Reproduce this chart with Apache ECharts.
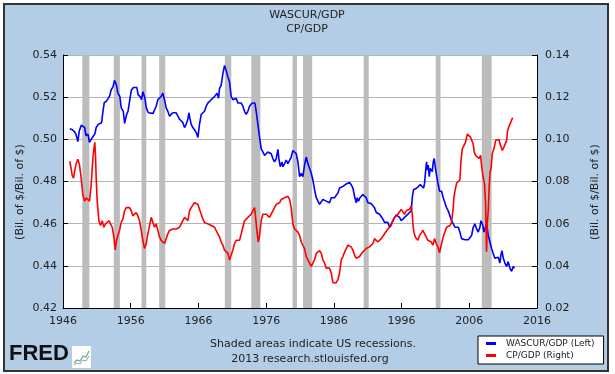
<!DOCTYPE html>
<html><head><meta charset="utf-8">
<script src="https://cdn.jsdelivr.net/npm/echarts@6.0.0/dist/echarts.min.js"></script>
<style>html,body{margin:0;padding:0;background:#fff}#c{width:615px;height:374px}</style>
</head><body><div id="c"></div><script>
// ---- data ----
const titleLines = ['WASCUR/GDP', 'CP/GDP'];
const seriesNames = ['WASCUR/GDP (Left)', 'CP/GDP (Right)'];
const xTicks = [1946, 1956, 1966, 1976, 1986, 1996, 2006, 2016];
const leftTicks = [0.42, 0.44, 0.46, 0.48, 0.50, 0.52, 0.54];
const rightTicks = [0.02, 0.04, 0.06, 0.08, 0.10, 0.12, 0.14];
const recessions = [[1948.85,1949.9],[1953.5,1954.4],[1957.6,1958.3],[1960.2,1961.1],[1969.9,1970.85],[1973.8,1975.15],[1979.9,1980.55],[1981.45,1982.8],[1990.4,1991.15],[2001.05,2001.75],[2007.85,2009.3]];

const wascurGDP = [
[1947.0,0.505],[1947.4,0.5045],[1947.7,0.5036],[1947.9,0.5025],[1948.2,0.4989],[1948.4,0.504],[1948.7,0.5067],[1948.9,0.5076],[1949.2,0.5056],[1949.4,0.5017],[1949.7,0.5025],[1949.9,0.4986],[1950.2,0.5002],[1950.4,0.4994],[1950.7,0.5025],[1950.9,0.5056],[1951.2,0.5071],[1951.4,0.5067],[1951.7,0.5079],[1951.9,0.5133],[1952.1,0.5175],[1952.4,0.518],[1952.6,0.5188],[1952.9,0.5206],[1953.1,0.5234],[1953.4,0.525],[1953.6,0.528],[1953.9,0.5257],[1954.1,0.5219],[1954.4,0.5203],[1954.6,0.5149],[1954.9,0.5133],[1955.1,0.5076],[1955.4,0.5118],[1955.6,0.5133],[1955.9,0.5195],[1956.1,0.5234],[1956.4,0.5246],[1956.6,0.525],[1956.9,0.5246],[1957.1,0.5211],[1957.4,0.5203],[1957.6,0.5188],[1957.8,0.5226],[1958.1,0.5195],[1958.3,0.5149],[1958.6,0.5126],[1958.8,0.5121],[1959.3,0.5123],
[1959.76,0.5157],[1960.01,0.5188],[1960.25,0.5195],[1960.5,0.5203],[1960.75,0.5219],[1960.99,0.5188],[1961.24,0.5149],[1961.48,0.5133],[1961.73,0.511],[1961.98,0.5118],[1962.22,0.5126],[1962.47,0.5118],[1962.72,0.5126],[1962.96,0.5118],[1963.21,0.5095],[1963.45,0.5102],[1963.7,0.5079],[1963.95,0.5056],[1964.19,0.5071],[1964.44,0.5095],[1964.59,0.5126],[1964.73,0.5102],[1964.93,0.5071],[1965.18,0.5056],[1965.42,0.5048],[1965.67,0.5033],[1965.92,0.5009],[1966.16,0.5071],[1966.41,0.5118],[1966.65,0.5126],[1966.9,0.5133],[1967.15,0.5157],[1967.39,0.5172],[1967.64,0.5164],[1967.89,0.5188],[1968.13,0.518],[1968.38,0.5203],[1968.62,0.5211],[1968.77,0.5219],[1968.97,0.5195],[1969.12,0.5242],[1969.36,0.5257],[1969.61,0.5312],[1969.85,0.535],[1970.1,0.5327],[1970.35,0.5296],[1970.59,0.5273],[1970.84,0.5203],[1971.09,0.5188],[1971.33,0.518],[1971.58,0.5195],[1971.82,0.5172],[1972.07,0.5164],[1972.32,0.5172],[1972.56,0.5157],[1972.81,0.5133],[1973.05,0.5118],[1973.3,0.5133],
[1973.55,0.5157],[1973.8,0.5164],[1973.94,0.5172],[1974.14,0.5164],[1974.34,0.5172],[1974.53,0.5133],[1974.78,0.5071],[1975.03,0.5009],[1975.27,0.4955],[1975.52,0.494],[1975.77,0.4924],[1976.01,0.4932],[1976.26,0.494],[1976.5,0.4947],[1976.75,0.4932],[1976.99,0.4909],[1977.24,0.4893],[1977.49,0.4909],[1977.74,0.4952],[1977.88,0.4909],[1978.08,0.487],[1978.33,0.4893],[1978.47,0.487],[1978.72,0.4885],[1978.97,0.4901],[1979.21,0.4885],[1979.46,0.4893],[1979.7,0.4916],[1979.95,0.4947],[1980.2,0.4955],[1980.44,0.4932],[1980.69,0.4893],[1980.94,0.4823],[1981.18,0.4839],[1981.43,0.4823],[1981.67,0.4878],[1981.92,0.4916],[1982.17,0.4885],[1982.41,0.4878],[1982.66,0.4839],[1982.9,0.4808],[1983.15,0.4761],[1983.4,0.4723],[1983.64,0.4715],[1983.89,0.4692],[1984.14,0.4699],[1984.38,0.4715],[1984.63,0.4707],[1984.87,0.4707],[1985.12,0.4715],[1985.37,0.4699],[1985.61,0.4723],[1985.86,0.473],[1986.11,0.4723],[1986.35,0.4715],[1986.6,0.4746],[1986.84,0.4769],[1987.09,0.4772],[1987.34,0.4777],
[1987.58,0.4785],[1987.83,0.4788],[1988.07,0.4792],[1988.32,0.4795],[1988.56,0.4785],[1988.81,0.4769],[1989.06,0.473],[1989.3,0.4699],[1989.45,0.4723],[1989.65,0.4707],[1989.85,0.4723],[1990.04,0.473],[1990.29,0.4738],[1990.53,0.4746],[1990.78,0.4723],[1991.03,0.4699],[1991.27,0.4692],[1991.52,0.4695],[1991.77,0.4699],[1992.01,0.4676],[1992.26,0.4653],[1992.5,0.4645],[1992.75,0.4645],[1993.0,0.4637],[1993.24,0.4622],[1993.49,0.4606],[1993.73,0.4599],[1993.98,0.4606],[1994.23,0.4583],[1994.47,0.4591],[1994.72,0.4614],[1994.97,0.463],[1995.21,0.4642],[1995.46,0.4645],[1995.7,0.463],[1995.95,0.4614],[1996.2,0.4622],[1996.44,0.463],[1996.69,0.4637],[1996.94,0.4645],[1997.18,0.4637],[1997.43,0.4661],[1997.58,0.4723],[1997.77,0.4761],[1998.02,0.4769],[1998.26,0.4769],[1998.51,0.4777],[1998.76,0.4785],[1999.0,0.4777],[1999.25,0.4769],[1999.4,0.4792],[1999.54,0.4847],[1999.69,0.4893],[1999.79,0.4854],[1999.94,0.4878],[2000.09,0.4823],[2000.23,0.4862],[2000.38,0.487],[2000.53,0.4847],[2000.68,0.4893],[2000.82,0.4909],[2000.97,0.487],[2001.12,0.4839],[2001.37,0.4792],[2001.61,0.4754],
[2001.91,0.4754],[2002.15,0.4723],[2002.4,0.4699],[2002.64,0.4676],[2002.89,0.4661],[2003.14,0.4653],[2003.38,0.4614],[2003.63,0.4599],[2003.88,0.4583],[2004.12,0.4586],[2004.37,0.4583],[2004.61,0.456],[2004.86,0.4529],[2005.11,0.4529],[2005.35,0.4524],[2005.6,0.4529],[2005.85,0.4524],[2006.09,0.4529],[2006.34,0.4544],[2006.58,0.4583],[2006.83,0.4599],[2007.08,0.4575],[2007.32,0.456],[2007.57,0.4583],[2007.72,0.4614],[2007.86,0.4622],[2008.01,0.4591],[2008.16,0.456],[2008.31,0.4575],[2008.55,0.4599],[2008.8,0.4544],[2009.05,0.4513],[2009.29,0.4482],[2009.54,0.4459],[2009.78,0.4436],[2010.03,0.4428],[2010.28,0.4441],[2010.52,0.4413],[2010.67,0.4451],[2010.82,0.4472],[2011.02,0.4436],[2011.26,0.4413],[2011.51,0.4397],[2011.75,0.442],[2012.0,0.4389],[2012.25,0.4374],[2012.49,0.4397],[2012.69,0.4389]
];

const cpGDP = [
[1947.0,0.0896],[1947.15,0.087],[1947.35,0.0831],[1947.55,0.0816],[1947.75,0.0854],[1947.95,0.0885],[1948.19,0.0906],[1948.44,0.0878],[1948.68,0.0816],[1948.93,0.0738],[1949.18,0.0707],[1949.42,0.0723],[1949.67,0.073],[1949.92,0.0707],[1950.16,0.0785],[1950.41,0.0909],[1950.56,0.0955],[1950.7,0.0986],[1950.8,0.0924],[1950.9,0.0816],[1951.05,0.0707],[1951.3,0.0614],[1951.54,0.0591],[1951.79,0.0614],[1952.03,0.0583],[1952.28,0.0599],[1952.53,0.0591],[1952.77,0.0614],[1953.02,0.0606],[1953.27,0.0583],[1953.51,0.0537],[1953.71,0.0475],[1953.86,0.0513],[1954.1,0.0544],[1954.35,0.0568],[1954.6,0.0606],[1954.84,0.0622],[1955.09,0.0661],[1955.33,0.0676],[1955.58,0.0684],[1955.83,0.0676],[1956.07,0.0661],[1956.32,0.0637],[1956.56,0.0645],[1956.81,0.0653],[1957.05,0.0637],[1957.3,0.0614],[1957.55,0.0568],[1957.8,0.0521],[1958.04,0.0482],[1958.29,0.0505],[1958.53,0.0552],[1958.78,0.0591],[1959.03,0.063],[1959.28,0.0606],[1959.52,0.0583],
[1959.76,0.0599],[1960.01,0.0568],[1960.25,0.0537],[1960.5,0.0521],[1960.75,0.0513],[1960.99,0.0506],[1961.24,0.0529],[1961.48,0.0552],[1961.73,0.0568],[1961.98,0.056],[1962.22,0.0575],[1962.47,0.0568],[1962.72,0.0575],[1962.96,0.0568],[1963.21,0.0583],[1963.45,0.0599],[1963.7,0.0614],[1963.95,0.063],[1964.19,0.0622],[1964.44,0.0614],[1964.69,0.0661],[1964.93,0.0676],[1965.18,0.0684],[1965.42,0.0699],[1965.67,0.0704],[1965.92,0.0692],[1966.16,0.0668],[1966.41,0.0645],[1966.65,0.0622],[1966.9,0.0606],[1967.15,0.0614],[1967.39,0.0599],[1967.64,0.0599],[1967.89,0.0591],[1968.13,0.0591],[1968.38,0.0583],[1968.62,0.0575],[1968.87,0.0552],[1969.12,0.0537],[1969.36,0.0513],[1969.61,0.0498],[1969.85,0.0475],[1970.1,0.0467],[1970.35,0.0459],[1970.59,0.0428],[1970.84,0.0451],[1971.09,0.0475],[1971.33,0.0506],[1971.58,0.0521],[1971.82,0.0529],[1972.07,0.0521],[1972.32,0.0552],[1972.56,0.0583],[1972.81,0.0614],[1973.05,0.0622],[1973.3,0.063],
[1973.55,0.063],[1973.8,0.0645],[1974.04,0.0661],[1974.29,0.0676],[1974.44,0.063],[1974.63,0.0568],[1974.83,0.0513],[1975.03,0.0544],[1975.27,0.0614],[1975.52,0.0645],[1975.77,0.0637],[1976.01,0.0645],[1976.26,0.0637],[1976.5,0.063],[1976.75,0.0622],[1976.99,0.0661],[1977.24,0.0676],[1977.49,0.0692],[1977.74,0.0684],[1977.98,0.0699],[1978.23,0.0715],[1978.47,0.0723],[1978.72,0.0723],[1978.97,0.0727],[1979.21,0.073],[1979.46,0.0715],[1979.7,0.0676],[1979.95,0.0599],[1980.2,0.0575],[1980.44,0.0583],[1980.69,0.056],[1980.94,0.0544],[1981.18,0.0513],[1981.43,0.0506],[1981.67,0.0482],[1981.92,0.0444],[1982.17,0.0428],[1982.41,0.0413],[1982.66,0.0397],[1982.9,0.0405],[1983.15,0.0428],[1983.4,0.0459],[1983.64,0.0467],[1983.89,0.0472],[1984.14,0.0459],[1984.38,0.0428],[1984.63,0.0413],[1984.87,0.0389],[1985.12,0.0382],[1985.37,0.0389],[1985.61,0.0366],[1985.86,0.032],[1986.11,0.0312],[1986.35,0.032],[1986.6,0.0335],[1986.84,0.0366],[1987.09,0.0428],[1987.34,0.0444],
[1987.58,0.0465],[1987.83,0.0482],[1988.07,0.0498],[1988.32,0.0506],[1988.56,0.049],[1988.81,0.0475],[1989.06,0.0451],[1989.3,0.0436],[1989.55,0.0436],[1989.8,0.0444],[1990.04,0.0456],[1990.29,0.0467],[1990.53,0.0475],[1990.78,0.0482],[1991.03,0.0482],[1991.27,0.049],[1991.52,0.0498],[1991.77,0.0506],[1992.01,0.0529],[1992.26,0.0529],[1992.5,0.0513],[1992.75,0.0521],[1993.0,0.0529],[1993.24,0.0537],[1993.49,0.0552],[1993.73,0.056],[1993.98,0.0575],[1994.23,0.0583],[1994.47,0.0591],[1994.72,0.0614],[1994.97,0.063],[1995.21,0.0637],[1995.46,0.0645],[1995.7,0.0653],[1995.95,0.0668],[1996.2,0.0661],[1996.44,0.0645],[1996.69,0.0661],[1996.94,0.0653],[1997.18,0.0668],[1997.43,0.0684],[1997.58,0.0645],[1997.67,0.0599],[1997.82,0.056],[1998.02,0.0537],[1998.22,0.0529],[1998.41,0.0521],[1998.66,0.0544],[1998.9,0.0555],[1999.15,0.0568],[1999.4,0.0552],[1999.64,0.0537],[1999.89,0.0521],[2000.14,0.0513],[2000.38,0.0513],[2000.63,0.0498],[2000.87,0.0529],[2001.12,0.0506],[2001.37,0.049],[2001.61,0.0462],
[2001.91,0.0506],[2002.15,0.0537],[2002.4,0.056],[2002.64,0.0583],[2002.89,0.0575],[2003.14,0.0591],[2003.38,0.0606],[2003.63,0.0676],[2003.73,0.0723],[2003.88,0.0754],[2004.12,0.0792],[2004.37,0.08],[2004.61,0.0808],[2004.76,0.0893],[2004.96,0.0955],[2005.21,0.0963],[2005.45,0.0986],[2005.7,0.1025],[2005.85,0.1033],[2005.99,0.1017],[2006.19,0.1009],[2006.44,0.1017],[2006.58,0.0978],[2006.73,0.094],[2006.93,0.0924],[2007.17,0.0932],[2007.42,0.0909],[2007.67,0.0924],[2007.81,0.0878],[2007.96,0.0839],[2008.11,0.0831],[2008.26,0.0785],[2008.41,0.0692],[2008.55,0.0467],[2008.65,0.0599],[2008.8,0.0661],[2008.95,0.0785],[2009.09,0.0847],[2009.24,0.087],[2009.39,0.0932],[2009.64,0.0955],[2009.88,0.0994],[2010.13,0.1002],[2010.38,0.0999],[2010.62,0.0971],[2010.87,0.0947],[2011.11,0.0963],[2011.36,0.0971],[2011.51,0.0994],[2011.65,0.104],[2011.9,0.1064],[2012.1,0.1079],[2012.3,0.1095],[2012.44,0.1102]
];

// ---- chart ----
const FONT = 'DejaVu Sans';
const TXT = '#222';
const chart = echarts.init(document.getElementById('c'), null, {renderer: 'canvas'});

const axisCommon = {
  axisLine: {show: true, lineStyle: {color: '#000', width: 1}},
  axisTick: {show: true, inside: true, length: 5, lineStyle: {color: '#000', width: 1}},
};

chart.setOption({
  animation: false,
  textStyle: {fontFamily: FONT},
  title: {
    text: titleLines[0], subtext: titleLines[1],
    left: 307, textAlign: 'center', top: 10, itemGap: 3, padding: 0,
    textStyle: {fontSize: 11, fontWeight: 'normal', color: TXT, fontFamily: FONT},
    subtextStyle: {fontSize: 11, color: TXT, fontFamily: FONT}
  },
  grid: {left: 63, right: 78, top: 55, bottom: 66, show: true, backgroundColor: '#fff', borderWidth: 0},
  legend: {
    data: seriesNames, orient: 'vertical', left: 478, top: 336,
    backgroundColor: '#fff', borderColor: '#000', borderWidth: 1, borderRadius: 0,
    padding: [3, 9, 4, 8], itemGap: 3, itemWidth: 10, itemHeight: 3, icon: 'rect',
    textStyle: {fontSize: 9, color: TXT, fontFamily: FONT, padding: [0, 0, 0, 5]}
  },
  xAxis: Object.assign({
    type: 'value', min: xTicks[0], max: xTicks[xTicks.length - 1], interval: xTicks[1] - xTicks[0],
    axisLabel: {formatter: v => String(v), fontSize: 11, color: TXT, margin: 8, fontFamily: FONT},
    splitLine: {show: false}
  }, axisCommon),
  yAxis: [
    Object.assign({
      type: 'value', position: 'left', min: leftTicks[0], max: leftTicks[leftTicks.length - 1], interval: 0.02,
      axisLabel: {formatter: v => v.toFixed(2), fontSize: 11, color: TXT, margin: 6, fontFamily: FONT},
      splitLine: {show: true, lineStyle: {color: '#b4b4b4', width: 1}}
    }, axisCommon),
    Object.assign({
      type: 'value', position: 'right', min: rightTicks[0], max: rightTicks[rightTicks.length - 1], interval: 0.02,
      axisLabel: {formatter: v => v.toFixed(2), fontSize: 11, color: TXT, margin: 8, fontFamily: FONT},
      splitLine: {show: false}
    }, axisCommon)
  ],
  series: [
    {
      type: 'custom', name: 'recessions', silent: true, z: 1,
      data: recessions,
      encode: {x: [0, 1]},
      renderItem: (params, api) => {
        const a = api.coord([api.value(0), leftTicks[leftTicks.length - 1]]);
        const b = api.coord([api.value(1), leftTicks[0]]);
        return {type: 'rect', shape: {x: a[0], y: a[1], width: b[0] - a[0], height: b[1] - a[1]}, style: {fill: '#bcbcbc'}};
      }
    },
    {
      type: 'line', name: seriesNames[0], yAxisIndex: 0, data: wascurGDP, z: 3,
      showSymbol: false, symbol: 'none', lineStyle: {color: '#0000ff', width: 1.6}, itemStyle: {color: '#0000ff'}
    },
    {
      type: 'line', name: seriesNames[1], yAxisIndex: 1, data: cpGDP, z: 3,
      showSymbol: false, symbol: 'none', lineStyle: {color: '#ff0000', width: 1.6}, itemStyle: {color: '#ff0000'}
    }
  ],
  graphic: [
    {type: 'rect', z: -100, silent: true, shape: {x: 4, y: 4, width: 604, height: 367}, style: {fill: '#b4cde6', stroke: '#333', lineWidth: 2}},
    {type: 'text', x: 20, y: 192, rotation: Math.PI / 2, silent: true,
     style: {text: '(Bil. of $/Bil. of $)', font: '11px "DejaVu Sans"', fill: TXT, textAlign: 'center', textVerticalAlign: 'middle'}},
    {type: 'text', x: 595, y: 192, rotation: Math.PI / 2, silent: true,
     style: {text: '(Bil. of $/Bil. of $)', font: '11px "DejaVu Sans"', fill: TXT, textAlign: 'center', textVerticalAlign: 'middle'}},
    {type: 'text', x: 313, y: 344, silent: true,
     style: {text: 'Shaded areas indicate US recessions.', font: '11px "DejaVu Sans"', fill: TXT, textAlign: 'center', textVerticalAlign: 'middle'}},
    {type: 'text', x: 310, y: 359, silent: true,
     style: {text: '2013 research.stlouisfed.org', font: '11px "DejaVu Sans"', fill: TXT, textAlign: 'center', textVerticalAlign: 'middle'}},
    {type: 'text', x: 9, y: 354, silent: true,
     style: {text: 'FRED', font: 'bold 22px "Liberation Sans"', fill: '#111', textAlign: 'left', textVerticalAlign: 'middle'}},
    {type: 'rect', silent: true, shape: {x: 72, y: 346, width: 19, height: 22}, style: {fill: '#fff', stroke: null}},
    {type: 'polyline', silent: true, shape: {points: [[74, 363], [77, 360], [80, 361], [83, 356], [86, 357], [89, 351]]}, style: {stroke: '#6fa86f', lineWidth: 1.2, fill: null}},
    {type: 'polyline', silent: true, shape: {points: [[74, 365], [77, 363], [80, 364], [83, 360], [86, 361], [89, 356]]}, style: {stroke: '#7e9ccc', lineWidth: 1, fill: null}}
  ]
});
</script></body></html>
